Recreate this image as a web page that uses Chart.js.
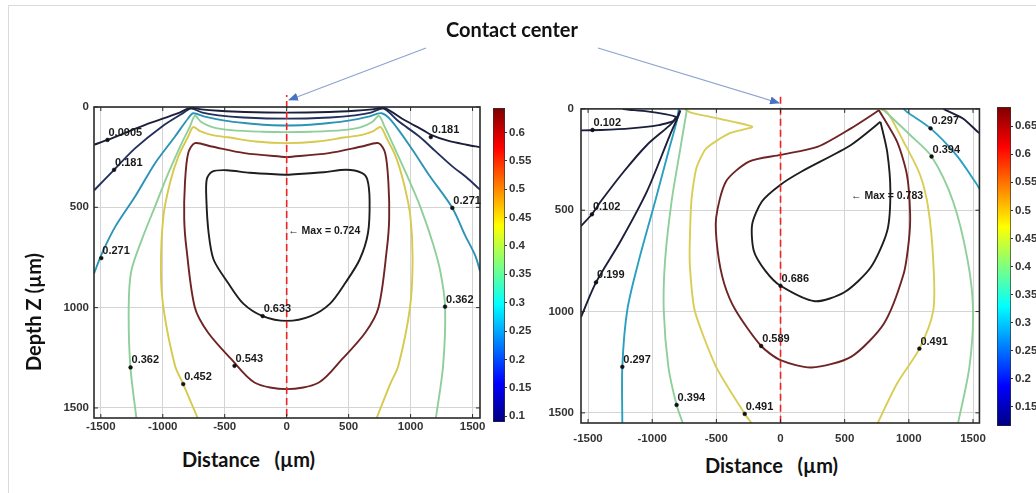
<!DOCTYPE html>
<html>
<head>
<meta charset="utf-8">
<script src="https://cdn.jsdelivr.net/npm/chart.js@4.4.1/dist/chart.umd.min.js"></script>
<style>
  body { margin: 0; width: 1036px; height: 493px; background: #fff; position: relative; overflow: hidden; }
  .box { position: absolute; }
  .axt { position: absolute; font: bold 20px Lato, "Open Sans", sans-serif; color: #111; white-space: pre; }
  #frameTop { position: absolute; left: 8px; top: 5px; width: 1028px; height: 1px; background: #dadada; }
  #frameLeft { position: absolute; left: 8px; top: 5px; width: 1px; height: 488px; background: #dadada; }
</style>
</head>
<body>
<div id="frameTop"></div>
<div id="frameLeft"></div>

<div class="box" style="left:0;top:95px;width:490px;height:350px"><canvas id="leftChart" width="490" height="350"></canvas></div>
<div class="box" style="left:493px;top:96px;width:45px;height:335px"><canvas id="leftBar" width="45" height="335"></canvas></div>
<div class="box" style="left:520px;top:95px;width:475px;height:356px"><canvas id="rightChart" width="475" height="356"></canvas></div>
<div class="box" style="left:997px;top:95px;width:39px;height:340px"><canvas id="rightBar" width="39" height="340"></canvas></div>

<div class="axt" style="left:182px;top:447px">Distance   (µm)</div>
<div class="axt" style="left:705px;top:453px">Distance   (µm)</div>
<div class="axt" style="left:-32px;top:300px;width:130px;text-align:center;transform:rotate(-90deg)">Depth Z (µm)</div>

<svg class="box" style="left:0;top:0" width="1036" height="493">
  <defs>
    <marker id="ah" markerWidth="10" markerHeight="8" refX="9" refY="4" orient="auto" markerUnits="userSpaceOnUse">
      <path d="M0,0 L10,4 L0,8 Z" fill="#4a72c4"/>
    </marker>
  </defs>
  <text x="512" y="37" text-anchor="middle" font-family="Lato, 'Open Sans', sans-serif" font-weight="bold" font-size="20" fill="#111">Contact center</text>
  <line x1="426" y1="48" x2="289" y2="100" stroke="#8fa3d0" stroke-width="1.3" marker-end="url(#ah)"/>
  <line x1="598" y1="48" x2="779" y2="103" stroke="#8fa3d0" stroke-width="1.3" marker-end="url(#ah)"/>
</svg>

<script>
// ---- axis ticks ----
const xTicks = [-1500, -1000, -500, 0, 500, 1000, 1500];
const yTicks = [0, 500, 1000, 1500];
const barTicksLeft = [0.1, 0.15, 0.2, 0.25, 0.3, 0.35, 0.4, 0.45, 0.5, 0.55, 0.6];
const barTicksRight = [0.15, 0.2, 0.25, 0.3, 0.35, 0.4, 0.45, 0.5, 0.55, 0.6, 0.65];
const barRangeLeft = [0.0895, 0.643];
const barRangeRight = [0.116, 0.684];

// ---- left plot contours [distance, depth] ----
const left0905 = [[-1555,188],[-1446,164],[-1142,89],[-875,31],[-775,4],[-690,12],[-550,19],[-340,25],[0,28],[340,25],[550,19],[690,12],[785,4],[950,65],[1100,115],[1170,140],[1300,168],[1450,188],[1560,200]];
const left181 = [[-1555,416],[-1393,313],[-1222,205],[-1008,98],[-848,35],[-772,8],[-680,28],[-550,42],[-350,52],[0,58],[350,52],[550,42],[680,28],[782,8],[900,70],[1070,147],[1200,220],[1337,296],[1450,350],[1560,412]];
const left271 = [[-1555,830],[-1489,727],[-1382,595],[-1222,445],[-1062,280],[-901,147],[-795,56],[-755,31],[-661,48],[-500,68],[-341,80],[-150,90],[0,92],[150,90],[341,80],[500,68],[661,48],[765,31],[848,70],[1016,214],[1150,340],[1337,503],[1440,640],[1524,744],[1560,818]];
const left362 = [[-1212,1555],[-1262,1290],[-1275,1000],[-1255,820],[-1169,661],[-1062,495],[-955,330],[-848,181],[-781,98],[-741,44],[-690,75],[-600,100],[-450,115],[-200,123],[0,125],[200,123],[450,115],[600,100],[690,75],[745,44],[790,98],[860,190],[970,340],[1080,500],[1180,680],[1240,820],[1278,995],[1262,1290],[1203,1555]];
const left452 = [[-715,1555],[-835,1381],[-901,1290],[-995,1000],[-1015,800],[-995,545],[-942,379],[-875,247],[-795,147],[-755,100],[-700,120],[-600,140],[-474,151],[-250,172],[0,180],[250,172],[474,151],[600,140],[700,120],[758,100],[800,147],[880,247],[945,379],[998,545],[1016,760],[995,1000],[901,1290],[835,1381],[723,1555]];
const left543 = [[0,250],[-340,230],[-607,197],[-741,180],[-795,230],[-821,379],[-827,560],[-808,710],[-741,999],[-635,1124],[-447,1257],[-260,1373],[0,1406],[260,1373],[447,1257],[635,1124],[741,999],[808,710],[827,560],[821,379],[795,230],[741,180],[607,197],[340,230],[0,250]];
const left633 = [[0,338],[-300,328],[-482,315],[-600,322],[-645,360],[-648,463],[-630,628],[-590,760],[-474,876],[-350,980],[-194,1042],[0,1066],[194,1042],[350,980],[474,876],[589,760],[656,628],[669,463],[650,360],[605,328],[482,313],[300,325],[0,338]];

// ---- right plot contours ----
const right102a = [[-1230,0],[-1195,3],[-1041,12],[-900,26],[-815,40],[-840,62],[-950,80],[-1169,96],[-1400,104],[-1555,106]];
const right102b = [[-1555,578],[-1470,520],[-1400,456],[-1221,309],[-1041,178],[-862,80],[-800,35],[-785,8]];
const right199 = [[-1555,1028],[-1438,856],[-1246,652],[-1041,407],[-862,129],[-800,40],[-780,8]];
const right199b = [[1270,0],[1292,7],[1421,47],[1536,113],[1555,122]];
const right297 = [[-1233,1555],[-1233,1273],[-1195,995],[-1105,750],[-977,456],[-874,211],[-810,64],[-797,15],[-790,0]];
const right297b = [[960,0],[985,15],[1169,96],[1369,227],[1523,366],[1555,400]];
const right394 = [[-759,1555],[-810,1461],[-874,1273],[-910,995],[-900,750],[-849,456],[-785,211],[-746,64],[-733,15],[-730,0]];
const right394b = [[800,3],[1010,129],[1177,235],[1344,456],[1459,750],[1500,995],[1472,1273],[1382,1555]];
const right491 = [[-221,1555],[-279,1505],[-502,1273],[-669,995],[-708,750],[-695,456],[-656,293],[-579,195],[-400,121],[-221,88],[-528,42],[-700,18],[-745,2]];
const right491b = [[785,3],[831,15],[959,162],[1087,325],[1151,489],[1190,750],[1190,995],[1082,1183],[908,1355],[754,1555]];
const right589 = [[767,7],[549,96],[292,186],[0,227],[-246,260],[-425,358],[-502,538],[-490,701],[-440,860],[-349,995],[-151,1170],[0,1240],[241,1276],[549,1224],[805,1060],[959,815],[1000,650],[1010,520],[985,325],[908,162],[767,7]];
const right686 = [[779,64],[549,178],[164,309],[0,374],[-144,456],[-221,570],[-208,701],[-118,799],[0,873],[267,949],[497,905],[702,783],[831,603],[856,407],[831,211],[779,64]];

// ---- contour labels ----
const leftLabelText = ['0.0905','0.181','0.271','0.362','0.452','0.543','0.633','0.181','0.271','0.362'];
const leftLabelX = [-1446,-1393,-1496,-1260,-835,-421,-194,1163,1337,1278];
const leftLabelY = [164,313,753,1298,1381,1290,1042,150,503,995];
const rightLabelText = ['0.102','0.102','0.199','0.297','0.394','0.491','0.589','0.686','0.491','0.297','0.394'];
const rightLabelX = [-1465,-1470,-1438,-1233,-810,-279,-151,0,1082,1169,1177];
const rightLabelY = [104,520,856,1273,1461,1505,1170,873,1183,96,235];
const leftMax = { text: '\u2190 Max = 0.724', x: 12, y: 620 };
const rightMax = { text: '\u2190 Max = 0.783', x: 549, y: 431 };

const C = { navy: '#1b1f3b', blue: '#23305c', teal: '#2b93b5', green: '#8fcf9a', yellow: '#d6c94c', dred: '#6e2424', black: '#1e1e1e' };
const tickFont = { family: '"Liberation Sans", Arial, sans-serif', size: 11.5, weight: 'bold' };

function lineSet(pts, color, tension) {
  return { type: 'scatter', showLine: true, data: pts.map(([x, y]) => ({ x, y })), borderColor: color,
    borderWidth: 1.9, pointRadius: 0, tension: tension === undefined ? 0.3 : tension, fill: false };
}

function makeFrame(texts, xs, ys, maxLabel) {
  return {
    id: 'frame',
    afterDatasetsDraw(chart) {
      const { ctx, chartArea: a, scales: { x, y } } = chart;
      ctx.save();
      ctx.strokeStyle = '#2a2a2a';
      ctx.lineWidth = 1;
      ctx.beginPath();
      x.ticks.forEach(t => {
        const p = x.getPixelForValue(t.value);
        ctx.moveTo(p, a.bottom); ctx.lineTo(p, a.bottom - 4);
        ctx.moveTo(p, a.top); ctx.lineTo(p, a.top + 4);
      });
      y.ticks.forEach(t => {
        const p = y.getPixelForValue(t.value);
        ctx.moveTo(a.left, p); ctx.lineTo(a.left + 4, p);
        ctx.moveTo(a.right, p); ctx.lineTo(a.right - 4, p);
      });
      ctx.stroke();
      ctx.lineWidth = 1.6;
      ctx.strokeRect(a.left, a.top, a.right - a.left, a.bottom - a.top);
      ctx.fillStyle = '#1a1a1a';
      ctx.font = 'bold 11px "Liberation Sans", Arial, sans-serif';
      ctx.textBaseline = 'middle';
      ctx.textAlign = 'left';
      texts.forEach((t, i) => {
        ctx.fillText(t, x.getPixelForValue(xs[i]) + 1, y.getPixelForValue(ys[i]) - 7);
      });
      ctx.font = 'bold 10.5px "Liberation Sans", Arial, sans-serif';
      ctx.fillText(maxLabel.text, x.getPixelForValue(maxLabel.x), y.getPixelForValue(maxLabel.y));
      ctx.restore();
    }
  };
}

function plotConfig(sets, xRange, yPad, labels, maxLabel, yw, xh, xpad, ypad, dashTop) {
  const [texts, xs, ys] = labels;
  return {
    type: 'scatter',
    data: {
      datasets: [
        ...sets,
        { type: 'scatter', showLine: true, data: [{ x: 0, y: dashTop }, { x: 0, y: 1550 }], borderColor: '#ee2424',
          borderWidth: 1.6, borderDash: [7, 4], pointRadius: 0, clip: false, order: -1 },
        { type: 'scatter', data: xs.map((v, i) => ({ x: v, y: ys[i] })), pointRadius: 1.9, order: -2,
          backgroundColor: '#111', borderColor: '#111', pointBackgroundColor: '#111', pointBorderColor: '#111', pointBorderWidth: 0.5 }
      ]
    },
    options: {
      responsive: false, animation: false, events: [],
      layout: { padding: yPad },
      plugins: { legend: { display: false }, tooltip: { enabled: false } },
      scales: {
        x: { type: 'linear', min: xRange[0], max: xRange[1],
          afterBuildTicks: s => { s.ticks = xTicks.map(v => ({ value: v })); },
          afterFit: s => { s.height = xh; },
          ticks: { font: tickFont, color: '#333', padding: xpad, maxRotation: 0, autoSkip: false, callback: v => String(v) },
          grid: { color: '#d4d4d4', drawTicks: false }, border: { display: false } },
        y: { type: 'linear', reverse: true, min: 0, max: 1550,
          afterBuildTicks: s => { s.ticks = yTicks.map(v => ({ value: v })); },
          afterFit: s => { s.width = yw; },
          ticks: { font: tickFont, color: '#333', padding: ypad, autoSkip: false, callback: v => String(v) },
          grid: { color: '#d4d4d4', drawTicks: false }, border: { display: false } }
      }
    },
    plugins: [makeFrame(texts, xs, ys, maxLabel)]
  };
}

const leftSets = [
  lineSet(left0905, C.navy), lineSet(left181, C.blue), lineSet(left271, C.teal), lineSet(left362, C.green),
  lineSet(left452, C.yellow), lineSet(left543, C.dred), lineSet(left633, C.black)
];
const rightSets = [
  lineSet(right102a, C.navy, 0.15), lineSet(right102b, C.navy), lineSet(right199, C.navy), lineSet(right199b, C.navy),
  lineSet(right297, '#2a9fc0'), lineSet(right297b, '#2a9fc0'), lineSet(right394, C.green), lineSet(right394b, C.green),
  lineSet(right491, '#d9cd55', 0.2), lineSet(right491b, '#d9cd55'), lineSet(right589, C.dred, 0.25), lineSet(right686, C.black, 0.25)
];

new Chart(document.getElementById('leftChart'),
  plotConfig(leftSets, [-1555, 1560], { top: 12, right: 10, left: 0, bottom: 0 },
    [leftLabelText, leftLabelX, leftLabelY], leftMax, 94, 27, 2, 5, -85));
new Chart(document.getElementById('rightChart'),
  plotConfig(rightSets, [-1555, 1550], { top: 12, right: 12, left: 0, bottom: 0 },
    [rightLabelText, rightLabelX, rightLabelY], rightMax, 61, 28, 9, 7, -60));

// ---- colour bars ----
function jet(ctx) {
  const area = ctx.chart.chartArea;
  if (!area) return '#888';
  const g = ctx.chart.ctx.createLinearGradient(0, area.bottom, 0, area.top);
  g.addColorStop(0, '#00007f'); g.addColorStop(0.125, '#0000ff'); g.addColorStop(0.375, '#00ffff');
  g.addColorStop(0.5, '#7fff7f'); g.addColorStop(0.625, '#ffff00'); g.addColorStop(0.875, '#ff0000');
  g.addColorStop(1, '#7f0000');
  return g;
}
function barConfig(range, ticks, yw, pad) {
  return {
    type: 'bar',
    data: { labels: [''], datasets: [{ data: [range], backgroundColor: jet, borderColor: '#333', borderWidth: 1,
      borderSkipped: false, categoryPercentage: 1, barPercentage: 1 }] },
    options: {
      responsive: false, animation: false, events: [],
      layout: { padding: pad },
      plugins: { legend: { display: false }, tooltip: { enabled: false } },
      scales: {
        x: { display: false },
        y: { position: 'right', min: range[0], max: range[1],
          afterBuildTicks: s => { s.ticks = ticks.map(v => ({ value: v })); },
          afterFit: s => { s.width = yw; },
          ticks: { font: tickFont, color: '#333', padding: 2, autoSkip: false, callback: v => String(v) },
          grid: { drawOnChartArea: false, tickLength: 2, color: '#333' }, border: { display: false } }
      }
    }
  };
}
new Chart(document.getElementById('leftBar'), barConfig(barRangeLeft, barTicksLeft, 33, { top: 12, bottom: 8 }));
new Chart(document.getElementById('rightBar'), barConfig(barRangeRight, barTicksRight, 25, { top: 12, bottom: 8 }));
</script>
</body>
</html>
